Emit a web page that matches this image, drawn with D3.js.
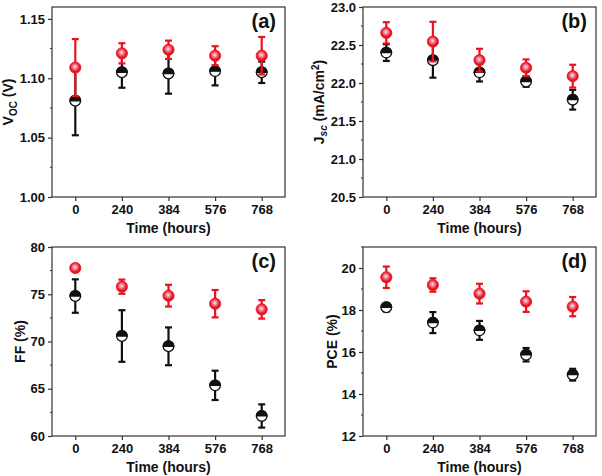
<!DOCTYPE html>
<html><head><meta charset="utf-8">
<script src="https://cdn.jsdelivr.net/npm/d3@7"></script>
<style>
body{margin:0;background:#fff;}
svg text{font-family:"Liberation Sans",Arial,sans-serif;font-weight:bold;fill:#111;}
</style></head>
<body><svg id="c" width="602" height="476"></svg>
<script>
const times = ["0","240","384","576","768"];

const vocBlack = [1.081,1.105,1.104,1.106,1.105];
const vocBlackErr = [0.029,0.013,0.017,0.012,0.009];
const vocRed = [1.109,1.121,1.124,1.119,1.119];
const vocRedErr = [0.024,0.0085,0.0077,0.008,0.0158];

const jscBlack = [22.40,22.30,22.14,22.02,21.78];
const jscBlackErr = [0.11,0.23,0.12,0.07,0.13];
const jscRed = [22.66,22.545,22.30,22.20,22.09];
const jscRedErr = [0.14,0.26,0.15,0.11,0.15];

const ffBlack = [74.81,70.58,69.49,65.36,62.12];
const ffBlackErr = [1.77,2.73,2.0,1.55,1.23];
const ffRed = [77.78,75.80,74.85,74.0,73.4];
const ffRedErr = [0.2,0.75,1.15,1.45,0.98];

const pceBlack = [18.13,17.40,17.03,15.87,14.92];
const pceBlackErr = [0.2,0.5,0.45,0.32,0.28];
const pceRed = [19.56,19.19,18.78,18.40,18.16];
const pceRedErr = [0.51,0.32,0.47,0.49,0.46];

const vocTicks = [1.00,1.05,1.10,1.15];
const jscTicks = [20.5,21.0,21.5,22.0,22.5,23.0];
const ffTicks = [60,65,70,75,80];
const pceTicks = [12,14,16,18,20];

const svg = d3.select("#c");
const defs = svg.append("defs");
const rg = defs.append("radialGradient").attr("id","ball").attr("cx","0.48").attr("cy","0.45").attr("r","0.6").attr("fx","0.46").attr("fy","0.42");
rg.append("stop").attr("offset","0").attr("stop-color","#fde6ee");
rg.append("stop").attr("offset","0.28").attr("stop-color","#f290a6");
rg.append("stop").attr("offset","0.68").attr("stop-color","#e8131f");
rg.append("stop").attr("offset","1").attr("stop-color","#e0101a");

const RED = "#e8131f";

function panel(o){
  const g = svg.append("g");
  const x = d3.scalePoint().domain(times).range([o.left,o.right]).padding(0.5);
  const y = d3.scaleLinear().domain(o.domain).range([o.bottom,o.top]);
  g.append("rect").attr("x",o.left).attr("y",o.top).attr("width",o.right-o.left).attr("height",o.bottom-o.top)
    .attr("fill","none").attr("stroke","#333").attr("stroke-width",1.2);
  const ya = d3.axisLeft(y).tickValues(o.ticks).tickFormat(d3.format(o.fmt)).tickSize(4).tickPadding(3);
  const yg = g.append("g").attr("transform",`translate(${o.left},0)`).call(ya);
  yg.select(".domain").remove();
  yg.selectAll("line").attr("stroke","#333").attr("stroke-width",1.2);
  yg.selectAll("text").style("font-size","13px").attr("fill","#111");
  g.selectAll(".mn").data(o.minors).join("line").attr("x1",o.left-2).attr("x2",o.left)
    .attr("y1",d=>y(d)).attr("y2",d=>y(d)).attr("stroke","#333").attr("stroke-width",1);
  const xa = d3.axisBottom(x).tickSize(4).tickPadding(4);
  const xg = g.append("g").attr("transform",`translate(0,${o.bottom})`).call(xa);
  xg.select(".domain").remove();
  xg.selectAll("line").attr("stroke","#333").attr("stroke-width",1.2);
  xg.selectAll("text").style("font-size","13px").attr("fill","#111");
  g.append("text").attr("x",(o.left+o.right)/2).attr("y",o.bottom+36).attr("text-anchor","middle")
    .style("font-size","14px").text("Time (hours)");
  const yt = g.append("text").attr("transform",`translate(${o.ylabX},${(o.top+o.bottom)/2}) rotate(-90)`)
    .attr("text-anchor","middle").style("font-size","14px");
  o.ylab(yt);
  g.append("text").attr("x",o.right-9).attr("y",o.top+21).attr("text-anchor","end")
    .style("font-size","20px").text(o.label);

  function errbars(vals, errs, color){
    const eg = g.append("g");
    vals.forEach((v,i)=>{
      const cx = x(times[i]);
      const y1 = y(v+errs[i]), y2 = y(v-errs[i]);
      eg.append("line").attr("x1",cx).attr("x2",cx).attr("y1",y1).attr("y2",y2).attr("stroke",color).attr("stroke-width",2.2);
      [y1,y2].forEach(yy=>eg.append("line").attr("x1",cx-3.5).attr("x2",cx+3.5).attr("y1",yy).attr("y2",yy).attr("stroke",color).attr("stroke-width",2.2));
    });
  }
  errbars(o.black,o.blackErr,"#111");
  const bg = g.append("g");
  o.black.forEach((v,i)=>{
    const cx = x(times[i]), cy = y(v), r = 5.3;
    bg.append("circle").attr("cx",cx).attr("cy",cy).attr("r",r).attr("fill","#fff").attr("stroke","#111").attr("stroke-width",1.3);
    bg.append("path").attr("d",`M${cx-r},${cy} A${r},${r} 0 0 1 ${cx+r},${cy} Z`).attr("fill","#111").attr("stroke","#111").attr("stroke-width",1.3);
  });
  errbars(o.red,o.redErr,RED);
  g.append("g").selectAll("circle").data(o.red).join("circle")
    .attr("cx",(d,i)=>x(times[i])).attr("cy",d=>y(d)).attr("r",5.6)
    .attr("fill","url(#ball)").attr("stroke",RED).attr("stroke-width",0.8);
}

function range(a,b,s){const r=[];for(let v=a;v<=b+1e-9;v+=s)r.push(+v.toFixed(4));return r;}

panel({left:52,right:285,top:7,bottom:197,domain:[1.0,1.16],ticks:vocTicks,fmt:".2f",
  minors:range(1.025,1.16,0.05),label:"(a)",ylabX:13,
  black:vocBlack,blackErr:vocBlackErr,red:vocRed,redErr:vocRedErr,
  ylab:t=>{t.append("tspan").text("V");t.append("tspan").attr("dy",4).style("font-size","10px").text("OC");t.append("tspan").attr("dy",-4).text(" (V)");}});

panel({left:363,right:596,top:7,bottom:197,domain:[20.5,23.0],ticks:jscTicks,fmt:".1f",
  minors:range(20.75,23.0,0.5),label:"(b)",ylabX:324,
  black:jscBlack,blackErr:jscBlackErr,red:jscRed,redErr:jscRedErr,
  ylab:t=>{t.append("tspan").text("J");t.append("tspan").attr("dy",3).style("font-size","10px").style("font-style","italic").text("sc");
    t.append("tspan").attr("dy",-3).text(" (mA/cm");t.append("tspan").attr("dy",-5).style("font-size","10px").text("2");t.append("tspan").attr("dy",5).text(")");}});

panel({left:52,right:285,top:247,bottom:436,domain:[60,80],ticks:ffTicks,fmt:"d",
  minors:range(62.5,80,5),label:"(c)",ylabX:25,
  black:ffBlack,blackErr:ffBlackErr,red:ffRed,redErr:ffRedErr,
  ylab:t=>t.text("FF (%)")});

panel({left:363,right:596,top:247,bottom:436,domain:[12,21],ticks:pceTicks,fmt:"d",
  minors:range(13,21,2),label:"(d)",ylabX:337,
  black:pceBlack,blackErr:pceBlackErr,red:pceRed,redErr:pceRedErr,
  ylab:t=>t.text("PCE (%)")});
</script></body></html>
